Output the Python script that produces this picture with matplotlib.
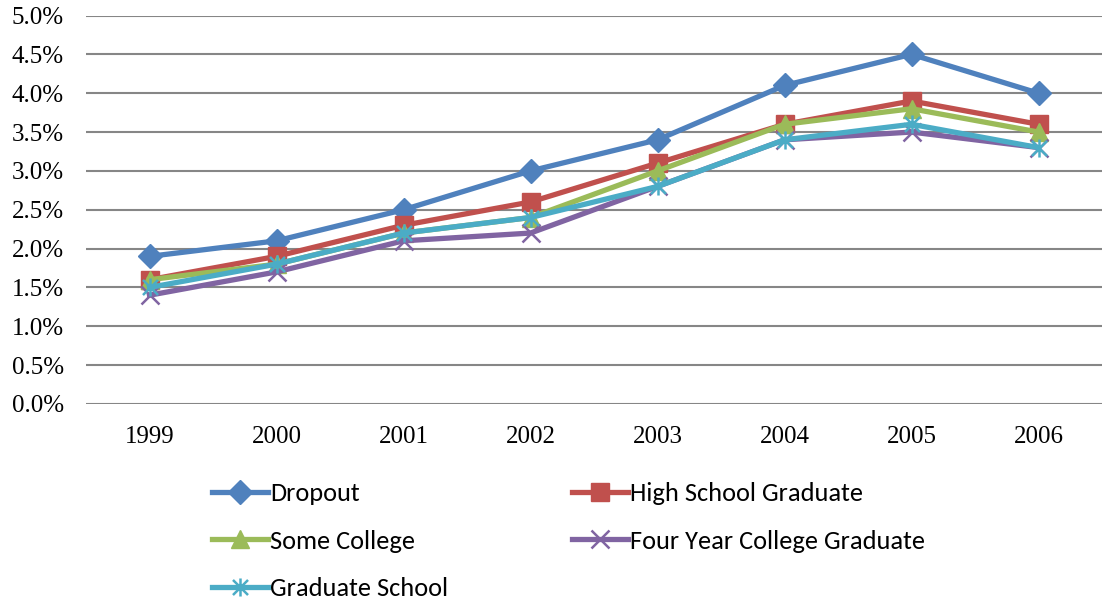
import numpy as np
import matplotlib
matplotlib.use("Agg")
from matplotlib import pyplot as plt
from matplotlib.path import Path
from matplotlib.ticker import FuncFormatter

years = ["1999", "2000", "2001", "2002", "2003", "2004", "2005", "2006"]

dropout = [1.9, 2.1, 2.5, 3.0, 3.4, 4.1, 4.5, 4.0]
high_school = [1.6, 1.9, 2.3, 2.6, 3.1, 3.6, 3.9, 3.6]
some_college = [1.6, 1.8, 2.2, 2.4, 3.0, 3.6, 3.8, 3.5]
four_year = [1.4, 1.7, 2.1, 2.2, 2.8, 3.4, 3.5, 3.3]
graduate = [1.5, 1.8, 2.2, 2.4, 2.8, 3.4, 3.6, 3.3]

# excel style asterisk marker (x with a vertical bar)
star = Path(
    [(-1, -1), (1, 1), (-1, 1), (1, -1), (0, -1.2), (0, 1.2)],
    [Path.MOVETO, Path.LINETO, Path.MOVETO, Path.LINETO, Path.MOVETO, Path.LINETO],
)

series = [
    ("Dropout", dropout, "#4F81BD", "D", 12),
    ("High School Graduate", high_school, "#C0504D", "s", 13),
    ("Some College", some_college, "#9BBB59", "^", 13),
    ("Four Year College Graduate", four_year, "#8064A2", "x", 13),
    ("Graduate School", graduate, "#4BACC6", star, 13),
]

fig = plt.figure(figsize=(11.02, 6.06), dpi=100)
ax = fig.add_axes([86 / 1102, 1 - 404 / 606, 1 - 86 / 1102, (404 - 15.5) / 606])

x = np.arange(len(years))
handles = {}
for name, vals, col, mk, ms in series:
    line, = ax.plot(x, vals, color=col, linewidth=3.8, marker=mk, markersize=ms,
                    markeredgewidth=1.8 if mk in ("x",) or mk is star else 1,
                    markeredgecolor=col, markerfacecolor=col, label=name,
                    solid_joinstyle="round", clip_on=False)
    handles[name] = line

ax.set_xlim(-0.5, 7.5)
ax.set_ylim(0, 5.0)
ax.set_yticks(np.arange(0, 5.01, 0.5))
ax.yaxis.set_major_formatter(FuncFormatter(lambda v, p: f"{v:.1f}%"))
ax.set_xticks(x)
ax.set_xticklabels(years)
ax.grid(axis="y", color="#868686", linewidth=1.5)
ax.set_axisbelow(True)
for s in ax.spines.values():
    s.set_visible(False)
ax.tick_params(length=0, labelsize=18)
ax.tick_params(axis="y", pad=16)
ax.tick_params(axis="x", pad=16)
for lab in ax.get_xticklabels() + ax.get_yticklabels():
    lab.set_fontfamily("Liberation Serif")

order = ["Dropout", "Some College", "Graduate School",
         "High School Graduate", "Four Year College Graduate"]
leg = fig.legend([handles[n] for n in order], order, ncol=2, loc="upper left",
                 bbox_to_anchor=(212 / 1102, 1 - 482 / 606), frameon=False,
                 borderpad=0, borderaxespad=0, handlelength=2.12, handletextpad=0.08,
                 columnspacing=4.7, labelspacing=0.93,
                 prop={"family": "Carlito", "size": 19})

fig.savefig("out.png", dpi=100)
